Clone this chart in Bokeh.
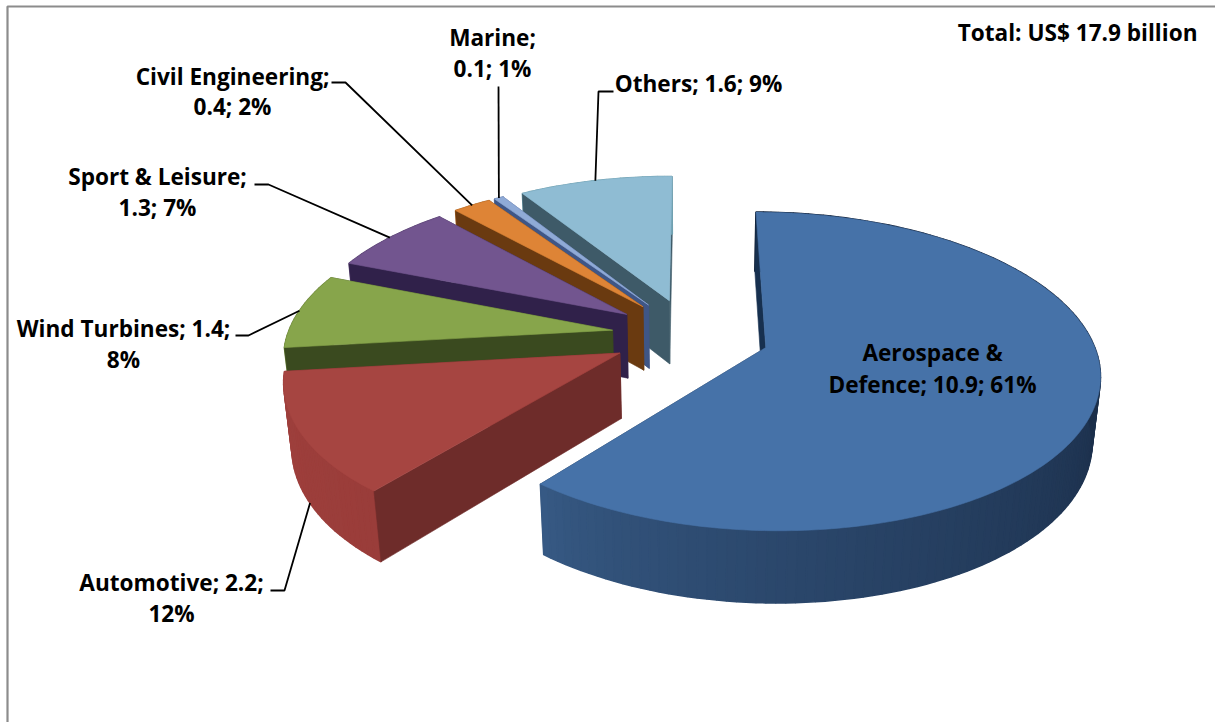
import math
from bokeh.embed import file_html
from bokeh.models import Range1d
from bokeh.plotting import figure
from bokeh.resources import INLINE
from bokeh.core.properties import value

# ---- chart values (US$ billion, share of total) ----
categories = ["Aerospace & Defence", "Automotive", "Wind Turbines", "Sport & Leisure",
              "Civil Engineering", "Marine", "Others"]
values = [10.9, 2.2, 1.4, 1.3, 0.4, 0.1, 1.6]
shares = [61, 12, 8, 7, 2, 1, 9]
total_label = "Total: US$ 17.9 billion"

top_colors = ["#4672a8", "#a64541", "#87a54b", "#72558f", "#de8436", "#8faad6", "#8fbcd3"]
wall_colors = ["#17304f", "#6e2c2a", "#3a4a1f", "#30214a", "#6a3a10", "#3f5686", "#3e5a68"]
rim_from = ["#375a85", "#a0403d", "#6a8238", "#5a4472", "#b06a2a", "#7088b0", "#70a0b0"]
rim_to = ["#0c172a", "#9a3d3a", "#6a8238", "#5a4472", "#b06a2a", "#7088b0", "#70a0b0"]

# label text lines, centre position of each line, and the leader-line elbow
label_lines = [
    [("Aerospace &", 932, 353), ("Defence; 10.9; 61%", 932, 385)],
    [("Automotive; 2.2;", 171, 583), ("12%", 171, 614)],
    [("Wind Turbines; 1.4;", 123, 329), ("8%", 123, 360)],
    [("Sport & Leisure;", 157, 177), ("1.3; 7%", 157, 208)],
    [("Civil Engineering;", 232, 77), ("0.4; 2%", 232, 107)],
    [("Marine;", 492, 38), ("0.1; 1%", 492, 69)],
    [("Others; 1.6; 9%", 698, 84)],
]
leader_elbows = [
    None,
    [(270, 590), (284, 590)],
    [(235, 335), (248, 335)],
    [(254, 184), (268, 184)],
    [(331, 82), (345, 82)],
    [(498, 86)],
    [(613, 91), (598, 91)],
]
leader_on_base = [False, True, False, False, False, False, False]

# ---- 3-D projection of the exploded pie ----
CX, CY, A, B, K = 690.0, 334.5, 325.0, 152.0, 0.148
EXPLODE, DEPTH, MZ, SX = 0.243, 66.0, 0.02, 0.0


def project(px, py, z):
    w = 1 - K * py + MZ * z
    return CX + (A * px + SX * z) / w, CY + (B * py + DEPTH * z) / w


def polar(theta):
    r = math.radians(theta)
    return math.sin(r), -math.cos(r)


def lerp_color(c0, c1, t):
    a = [int(c0[i:i + 2], 16) for i in (1, 3, 5)]
    b = [int(c1[i:i + 2], 16) for i in (1, 3, 5)]
    return "#%02x%02x%02x" % tuple(round(u + (v - u) * t) for u, v in zip(a, b))


p = figure(width=1215, height=722, output_backend="svg", toolbar_location=None,
           x_range=Range1d(0, 1215), y_range=Range1d(722, 0),
           x_axis_type=None, y_axis_type=None, min_border=0,
           background_fill_color="white", border_fill_color="white")
p.styles = {"position": "absolute", "left": "0px", "top": "0px"}
p.outline_line_color = None
p.grid.visible = False

# frame: only top and left edges show
p.line([7, 7, 1215], [722, 6, 6], line_color="#8c8c8c", line_width=2.2)

total = sum(values)
slices = []
angle = 0.0
for i, v in enumerate(values):
    sweep = v / total * 360.0
    slices.append((i, angle, angle + sweep))
    angle += sweep

# painter's order: from the back (last slices) to the front (first slices)
for i, a0, a1 in reversed(slices):
    mid = (a0 + a1) / 2
    mx, my = polar(mid)
    ox, oy = EXPLODE * mx, EXPLODE * my

    def pt(theta, z, radius=1.0):
        sx, sy = polar(theta)
        return project(ox + radius * sx, oy + radius * sy, z)

    def wall(edge):
        corners = [pt(edge, 0, 0), pt(edge, 0), pt(edge, 1), pt(edge, 1, 0)]
        p.patch([c[0] for c in corners], [c[1] for c in corners],
                fill_color=wall_colors[i], line_color=wall_colors[i], line_width=0.6)

    # hidden cut wall first
    wall(a1)

    # curved outer wall, shaded along the arc
    n = max(4, int((a1 - a0) / 1.5))
    for j in range(n):
        t0 = a1 - (a1 - a0) * j / n
        t1 = a1 - (a1 - a0) * (j + 1) / n
        q = [pt(t0, 0), pt(t1, 0), pt(t1, 1), pt(t0, 1)]
        col = lerp_color(rim_from[i], rim_to[i], ((j + 0.5) / n) ** 0.75)
        p.patch([c[0] for c in q], [c[1] for c in q], fill_color=col, line_color=col, line_width=1.6)

    # visible cut wall
    wall(a0)

    # top face
    steps = max(6, int((a1 - a0) / 1.0))
    arc = [pt(a0 + (a1 - a0) * j / steps, 0) for j in range(steps + 1)]
    ring = [pt(a0, 0, 0)] + arc
    p.patch([c[0] for c in ring], [c[1] for c in ring],
            fill_color=top_colors[i], line_color=top_colors[i], line_width=0.6)

# leader lines run from the label elbow to the slice's rim at its middle angle
for i, a0, a1 in slices:
    if leader_elbows[i] is None:
        continue
    mid = (a0 + a1) / 2
    mx, my = polar(mid)
    end = project(EXPLODE * mx + mx, EXPLODE * my + my, 1 if leader_on_base[i] else 0)
    path = leader_elbows[i] + [end]
    p.line([c[0] for c in path], [c[1] for c in path], line_color="black", line_width=1.8)

# labels
FONT = value("Open Sans")
SIZE = "22.6px"
for lines in label_lines:
    for text, x, y in lines:
        p.text([x], [y - 1], text=[text], text_font=FONT, text_font_size=SIZE, text_font_style="bold",
               text_color="black", text_align="center", text_baseline="middle")
p.text([1197], [32], text=[total_label], text_font=FONT, text_font_size=SIZE, text_font_style="bold",
       text_color="black", text_align="right", text_baseline="middle")

open("out.html", "w").write(file_html(p, INLINE))
